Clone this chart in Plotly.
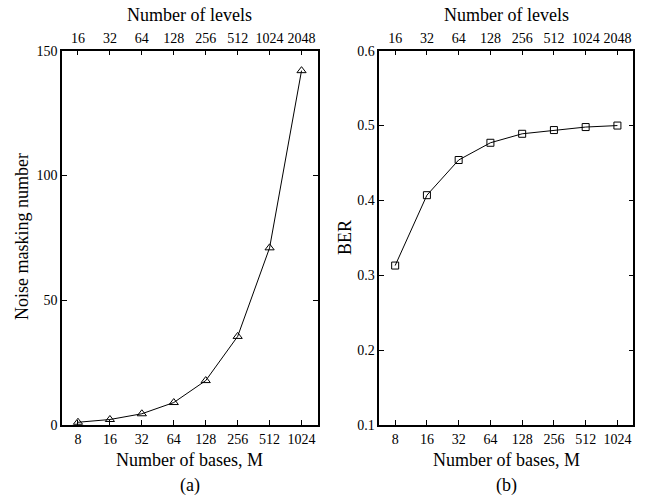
import plotly.graph_objects as go
import math

M_bases = [8, 16, 32, 64, 128, 256, 512, 1024]
levels = [16, 32, 64, 128, 256, 512, 1024, 2048]
noise_masking = [1.1, 2.2, 4.5, 9.0, 17.8, 35.5, 71.0, 142.0]
ber = [0.313, 0.407, 0.454, 0.477, 0.489, 0.494, 0.498, 0.500]
y1_ticks = [0, 50, 100, 150]
y2_ticks = [0.1, 0.2, 0.3, 0.4, 0.5, 0.6]

FONT = "Liberation Serif"
W, H = 646, 498
xr = [math.log10(M_bases[0] / math.sqrt(2)), math.log10(M_bases[-1] * math.sqrt(2))]
tr = [math.log10(levels[0] / math.sqrt(2)), math.log10(levels[-1] * math.sqrt(2))]

fig = go.Figure()
fig.add_trace(go.Scatter(x=M_bases, y=noise_masking, mode="lines+markers",
                         line=dict(color="black", width=1),
                         marker=dict(symbol="triangle-up-open", size=8, color="black", line=dict(width=1)),
                         xaxis="x", yaxis="y", showlegend=False))
fig.add_trace(go.Scatter(x=M_bases, y=ber, mode="lines+markers",
                         line=dict(color="black", width=1),
                         marker=dict(symbol="square-open", size=7, color="black", line=dict(width=1)),
                         xaxis="x2", yaxis="y2", showlegend=False))
fig.add_trace(go.Scatter(x=levels, y=[None]*8, xaxis="x3", yaxis="y", showlegend=False))
fig.add_trace(go.Scatter(x=levels, y=[None]*8, xaxis="x4", yaxis="y2", showlegend=False))

ydom = [1 - 425/H, 1 - 50.7/H]
d1 = [62/W, 317.5/W]
d2 = [379.3/W, 633.3/W]

common_x = dict(type="log", showgrid=False, zeroline=False, showline=True, linecolor="black",
                linewidth=1.5, ticks="inside", ticklen=5, tickcolor="black", automargin=False,
                tickfont=dict(family=FONT, size=14, color="black"))
common_y = dict(showgrid=False, zeroline=False, showline=True, linecolor="black", linewidth=1.5,
                ticks="inside", ticklen=5, tickcolor="black", mirror="ticks", automargin=False,
                tickfont=dict(family=FONT, size=14, color="black"))

fig.update_layout(
    width=W, height=H, margin=dict(l=0, r=0, t=0, b=0),
    plot_bgcolor="white", paper_bgcolor="white",
    font=dict(family=FONT, color="black"),
    xaxis=dict(**common_x, domain=d1, range=xr, tickvals=M_bases, ticktext=[str(v) for v in M_bases], anchor="y"),
    xaxis2=dict(**common_x, domain=d2, range=xr, tickvals=M_bases, ticktext=[str(v) for v in M_bases], anchor="y2"),
    xaxis3=dict(**common_x, overlaying="x", side="top", anchor="y", range=tr, tickvals=levels,
                ticktext=[str(v) for v in levels]),
    xaxis4=dict(**common_x, overlaying="x2", side="top", anchor="y2", range=tr, tickvals=levels,
                ticktext=[str(v) for v in levels]),
    yaxis=dict(**common_y, domain=ydom, range=[0, 150], tickvals=y1_ticks, anchor="x"),
    yaxis2=dict(**common_y, domain=ydom, range=[0.1, 0.6], tickvals=y2_ticks, anchor="x2", tickformat=".1f"),
)

def ann(text, x, y, angle=0, size=18):
    fig.add_annotation(text=text, x=x / W, y=1 - y / H, xref="paper", yref="paper",
                       showarrow=False, textangle=angle, xanchor="center", yanchor="middle",
                       font=dict(family=FONT, size=size, color="black"))

for d, lab in ((d1, "(a)"), (d2, "(b)")):
    cx = (d[0] + d[1]) / 2 * W
    ann("Number of levels", cx, 15)
    ann("Number of bases, M", cx, 460)
    ann(lab, cx, 485)
ann("Noise masking number", 22, 237, angle=-90)
ann("BER", 345, 237, angle=-90)

fig.write_html("out.html")
